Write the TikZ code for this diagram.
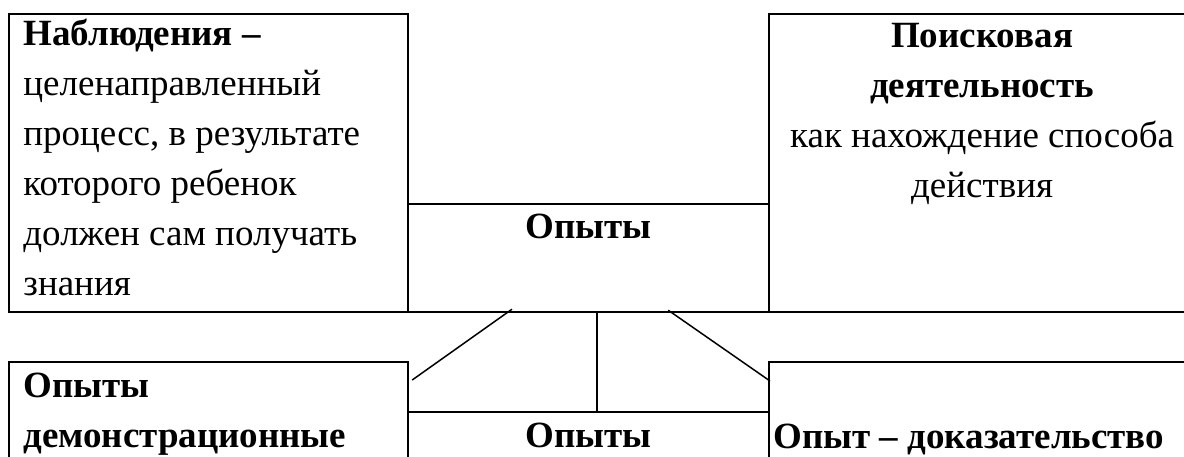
\documentclass[tikz,border=0pt]{standalone}
\usepackage{fontspec}
\setmainfont{Liberation Serif}
\usetikzlibrary{positioning}
\tikzset{box/.style={draw,line width=1.1pt,inner sep=0pt,anchor=north west},
	txt/.style={inner sep=0pt,font=\fontsize{18.5}{25}\selectfont},
	link/.style={line width=0.75pt},}

\begin{document}
\begin{tikzpicture}[x=0.5pt, y=-0.5pt]
	\useasboundingbox (0,0) rectangle (1184,456);
	% top row
	\node[box, minimum width=199.5pt, minimum height=149pt] (obs) at (8,13) {};
	\node[box, minimum width=180.5pt, minimum height=54pt] (exp) at (407,203) {};
	\node[box, minimum width=213pt, minimum height=149pt] (search) at (768,13) {};
	% bottom row
	\node[box, minimum width=199.5pt, minimum height=90pt] (demo) at (8,361) {};
	\node[box, minimum width=180.5pt, minimum height=65pt] (exp2) at (407,411) {};
	\node[box, minimum width=213pt, minimum height=90pt] (proof) at (768,361) {};

	% texts (base = last line)
	\node[txt, anchor=base west, align=left] (obstext) at ([xshift=7.5pt,yshift=-141pt]obs.north west)
		{\textbf{Наблюдения –}\\целенаправленный\\процесс, в результате\\которого ребенок\\должен сам получать\\знания};
	\node[txt, anchor=base, align=center] (searchtext) at ([yshift=-92pt]search.north)
		{\textbf{Поисковая}\\\textbf{деятельность}\\как нахождение способа\\действия};
	\node[txt, anchor=base] (exptext) at ([yshift=-17.5pt]exp.north) {\textbf{Опыты}};
	\node[txt, anchor=base west, align=left] (demotext) at ([xshift=7.5pt,yshift=-43pt]demo.north west)
		{\textbf{Опыты}\\\textbf{демонстрационные}};
	\node[txt, anchor=base] (exp2text) at ([yshift=-18pt]exp2.north) {\textbf{Опыты}};
	\node[txt, anchor=base west] (prooftext) at ([xshift=2.5pt,yshift=-43.5pt]proof.north west)
		{\textbf{Опыт – доказательство}};

	% links
	\draw[link] ([xshift=52.5pt,yshift=2pt]exp.south west) -- ([xshift=1.5pt,yshift=-9.5pt]demo.north east);
	\draw[link, line width=1.1pt] ([xshift=4.25pt]exp.south) -- ([xshift=4.25pt]exp2.north);
	\draw[link] ([xshift=-51pt,yshift=1.5pt]exp.south east) -- ([xshift=1pt,yshift=-10pt]proof.north west);
\end{tikzpicture}
\end{document}
